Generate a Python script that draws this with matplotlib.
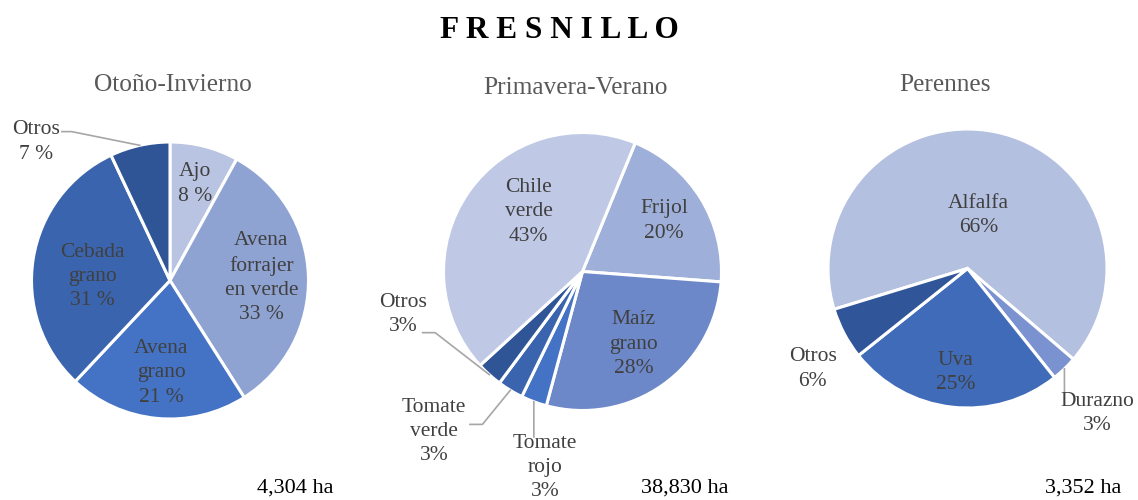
import numpy as np
import matplotlib.pyplot as plt

plt.rcParams['font.family'] = ['Liberation Serif', 'DejaVu Serif']

# Otoño-Invierno
oi_names = ['Ajo', 'Avena\nforrajer\nen verde', 'Avena\ngrano', 'Cebada\ngrano', 'Otros']
oi_values = [8, 33, 21, 31, 7]
oi_pct = ['8 %', '33 %', '21 %', '31 %', '7 %']
oi_total = '4,304 ha'

# Primavera-Verano
pv_names = ['Frijol', 'Maíz\ngrano', 'Tomate\nrojo', 'Tomate\nverde', 'Otros', 'Chile\nverde']
pv_values = [20, 28, 3, 3, 3, 43]
pv_pct = ['20%', '28%', '3%', '3%', '3%', '43%']
pv_total = '38,830 ha'

# Perennes
pe_names = ['Alfalfa', 'Durazno', 'Uva', 'Otros']
pe_values = [66, 3, 25, 6]
pe_pct = ['66%', '3%', '25%', '6%']
pe_total = '3,352 ha'

oi_colors = ['#B9C3E2', '#8FA3D3', '#4472C4', '#3A64AE', '#2F5597']
pv_colors = ['#9EAFD9', '#6C88C9', '#4472C4', '#3A64AE', '#2F5597', '#BFC9E5']
pe_colors = ['#B4C0E0', '#7A93D0', '#3F6BB8', '#305598']

W, H = 1138, 500
fig = plt.figure(figsize=(W / 100, H / 100), dpi=100)

lab_color = '#404040'
lab_size = 15.5
lab_ls = 1.38


def pie_axes(cx, cy, r):
    ax = fig.add_axes([(cx - r) / W, (H - cy - r) / H, 2 * r / W, 2 * r / H])
    return ax


def draw_pie(ax, values, colors, start, names, pct, dists, outside, shifts=None):
    wedges, _ = ax.pie(values, colors=colors, startangle=start, counterclock=False,
                       radius=1, wedgeprops=dict(edgecolor='white', linewidth=2.2))
    ax.set_xlim(-1, 1)
    ax.set_ylim(-1, 1)
    ax.set_aspect('equal')
    ax.axis('off')
    shifts = shifts or {}
    for i, w in enumerate(wedges):
        mid = np.deg2rad((w.theta1 + w.theta2) / 2)
        txt = names[i] + '\n' + pct[i]
        if i in outside:
            tx, ty, pts = outside[i]
            ax.text(tx, ty, txt, ha='center', va='center', fontsize=lab_size,
                    color=lab_color, linespacing=lab_ls, clip_on=False)
            if pts:
                xs = [np.cos(mid)] + [p[0] for p in pts]
                ys = [np.sin(mid)] + [p[1] for p in pts]
                ax.plot(xs, ys, color='#A6A6A6', lw=1.2, clip_on=False)
        else:
            d = dists[i]
            a = mid + np.deg2rad(shifts.get(i, 0))
            ax.text(d * np.cos(a), d * np.sin(a), txt, ha='center', va='center',
                    fontsize=lab_size, color=lab_color, linespacing=lab_ls)


ax1 = pie_axes(170, 280.5, 138.5)
draw_pie(ax1, oi_values, oi_colors, 90, oi_names, oi_pct,
         [0.72, 0.66, 0.67, 0.56, None],
         {4: (-0.97, 1.0, [(-0.71, 1.075), (-0.78, 1.075)])},
         {3: 6})

ax2 = pie_axes(582.5, 271.5, 139)
draw_pie(ax2, pv_values, pv_colors, 67.7, pv_names, pv_pct,
         [0.69, 0.64, None, None, None, 0.58],
         {2: (-0.27, -1.41, [(-0.35, -1.19)]),
          3: (-1.07, -1.15, [(-0.72, -1.10), (-0.81, -1.10)]),
          4: (-1.29, -0.31, [(-1.06, -0.44), (-1.15, -0.44)])},
         {5: -13})

ax3 = pie_axes(967.5, 268.5, 139.5)
draw_pie(ax3, pe_values, pe_colors, 197, pe_names, pe_pct,
         [0.39, None, 0.75, None],
         {1: (0.93, -1.04, [(0.695, -0.89)]),
          3: (-1.11, -0.72, [])})

fig.text(559 / W, 1 - 30 / H, 'F R E S N I L L O', ha='center', va='center',
         fontsize=22.5, fontweight='bold', color='black')

for x, y, s in [(173, 85, 'Otoño-Invierno'), (575, 88, 'Primavera-Verano'), (945, 85, 'Perennes')]:
    fig.text(x / W, 1 - y / H, s, ha='center', va='center', fontsize=18.3, color='#595959')

for x, s in [(295, oi_total), (685, pv_total), (1083, pe_total)]:
    fig.text(x / W, 1 - 488 / H, s, ha='center', va='center', fontsize=16, color='black')

fig.savefig('out.png', dpi=100)
